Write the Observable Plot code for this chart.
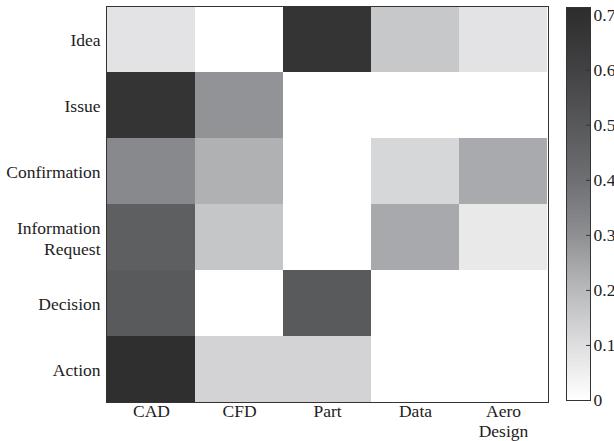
<!DOCTYPE html>
<html>
<head>
<meta charset="utf-8">
<script src="https://cdn.jsdelivr.net/npm/d3@7"></script>
<script src="https://cdn.jsdelivr.net/npm/@observablehq/plot@0.6"></script>
<style>
  html, body { margin: 0; padding: 0; background: #fff; }
  #wrap { position: relative; width: 614px; height: 441px; overflow: hidden; }
  #main { position: absolute; left: 0; top: 0; }
  #bar { position: absolute; left: 556px; top: 0; }
  #wrap svg, #wrap svg text { font-family: "Liberation Serif", "DejaVu Serif", serif !important; }
</style>
</head>
<body>
<div id="wrap"><div id="main"></div><div id="bar"></div></div>
<script>
const rows = ["Idea", "Issue", "Confirmation", "Information\nRequest", "Decision", "Action"];
const cols = ["CAD", "CFD", "Part", "Data", "Aero\nDesign"];
const cad  = [0.085, 0.675, 0.32, 0.47, 0.49, 0.70];
const cfd  = [0, 0.29, 0.22, 0.165, 0, 0.13];
const part = [0.675, 0, 0, 0, 0.49, 0.13];
const data = [0.16, 0, 0.12, 0.237, 0, 0];
const aero = [0.085, 0, 0.235, 0.067, 0, 0];
const colorTicks = [0, 0.1, 0.2, 0.3, 0.4, 0.5, 0.6, 0.7];
const vmax = 0.714;

const series = [cad, cfd, part, data, aero];
const table = [];
cols.forEach((c, j) => rows.forEach((r, i) => table.push({col: c, row: r, value: series[j][i]})));

const colorScale = {
  type: "linear",
  domain: [0, 0.1, 0.2, 0.3, 0.4, 0.5, 0.6, vmax],
  range: ["#ffffff", "#dedee0", "#b8b9bb", "#8e8f92", "#6e6f72", "#57585a", "#424244", "#2c2c2d"],
  clamp: true
};

const font = {fontSize: "17.5px", fontFamily: "'Liberation Serif', serif", color: "#222"};

const main = Plot.plot({
  width: 556,
  height: 441,
  marginLeft: 106,
  marginRight: 8,
  marginTop: 6,
  marginBottom: 39,
  style: font,
  x: {domain: cols, padding: 0},
  y: {domain: rows, padding: 0},
  color: colorScale,
  marks: [
    Plot.cell(table, {x: "col", y: "row", fill: "value", inset: 0}),
    Plot.frame({stroke: "#333", strokeWidth: 1}),
    Plot.axisX({tickSize: 0, tickPadding: 0, label: null, lineHeight: 1.15, fill: "#222"}),
    Plot.axisY({tickSize: 0, tickPadding: 6, label: null, lineHeight: 1.2, fill: "#222"})
  ]
});
document.getElementById("main").appendChild(main);

const steps = d3.range(0, 300).map(i => ({y1: vmax * i / 300, y2: vmax * (i + 1) / 300}));
const bar = Plot.plot({
  width: 58,
  height: 441,
  marginLeft: 10,
  marginRight: 24,
  marginTop: 7,
  marginBottom: 41,
  style: font,
  x: {domain: [0, 1], axis: null},
  y: {domain: [0, vmax]},
  color: colorScale,
  marks: [
    Plot.rect(steps, {x1: 0, x2: 1, y1: "y1", y2: "y2", fill: d => (d.y1 + d.y2) / 2, shapeRendering: "crispEdges"}),
    Plot.ruleY(colorTicks, {x1: 0.84, x2: 1, stroke: "#333"}),
    Plot.frame({stroke: "#333", strokeWidth: 1}),
    Plot.axisY({anchor: "right", ticks: colorTicks, tickSize: 0, tickPadding: 3, label: null, tickFormat: d3.format(""), fill: "#222"})
  ]
});
document.getElementById("bar").appendChild(bar);
</script>
</body>
</html>
